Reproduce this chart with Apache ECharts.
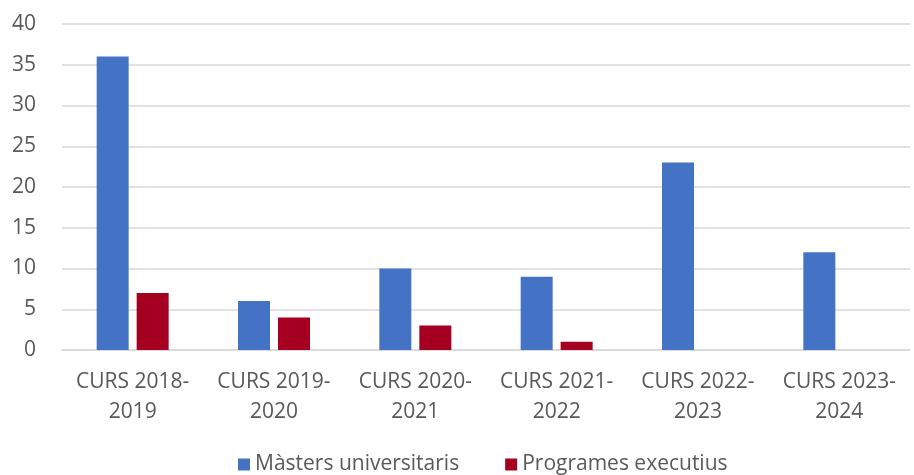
<!DOCTYPE html>
<html>
<head>
  <meta charset="utf-8"/>
  <script src="https://cdn.jsdelivr.net/npm/echarts@6/dist/echarts.min.js"></script>
  <style>
    html, body { margin: 0; padding: 0; background: #fff; }
    #chartmain { width: 914px; height: 475px; }
  </style>
</head>
<body>
  <div id="chartmain"></div>
  <script type="text/javascript">
    // dades del gràfic
    var cursos = ['CURS 2018-\n2019', 'CURS 2019-\n2020', 'CURS 2020-\n2021', 'CURS 2021-\n2022', 'CURS 2022-\n2023', 'CURS 2023-\n2024'];
    var masters = [36, 6, 10, 9, 23, 12];
    var programes = [7, 4, 3, 1, 0, 0];
    var nomsSeries = ['Màsters universitaris', 'Programes executius'];

    var font = '"Open Sans", "Noto Sans", sans-serif';
    var gris = '#595959';

    var option = {
      animation: false,
      grid: { left: 62, right: 4, top: 24, bottom: 125 },
      legend: {
        top: 449,
        left: 233,
        itemWidth: 12,
        itemHeight: 12,
        itemGap: 46,
        icon: 'rect',
        textStyle: { fontFamily: font, fontSize: 21, color: gris },
        data: nomsSeries
      },
      xAxis: {
        type: 'category',
        data: cursos,
        axisLine: { lineStyle: { color: '#d9d9d9', width: 1.5 } },
        axisTick: { show: false },
        axisLabel: {
          interval: 0,
          margin: 17,
          lineHeight: 30,
          fontFamily: font,
          fontSize: 21,
          color: gris
        }
      },
      yAxis: {
        type: 'value',
        min: 0,
        max: 40,
        interval: 5,
        axisLine: { show: false },
        axisTick: { show: false },
        splitLine: { lineStyle: { color: '#d9d9d9', width: 1.5 } },
        axisLabel: { margin: 26, fontFamily: font, fontSize: 21, color: gris }
      },
      series: [
        {
          name: nomsSeries[0],
          type: 'bar',
          barWidth: 32,
          barGap: '25%',
          itemStyle: { color: '#4472C4' },
          data: masters
        },
        {
          name: nomsSeries[1],
          type: 'bar',
          barWidth: 32,
          itemStyle: { color: '#A50021' },
          data: programes
        }
      ]
    };

    var myChart = echarts.init(document.getElementById('chartmain'));
    myChart.setOption(option);
  </script>
</body>
</html>
